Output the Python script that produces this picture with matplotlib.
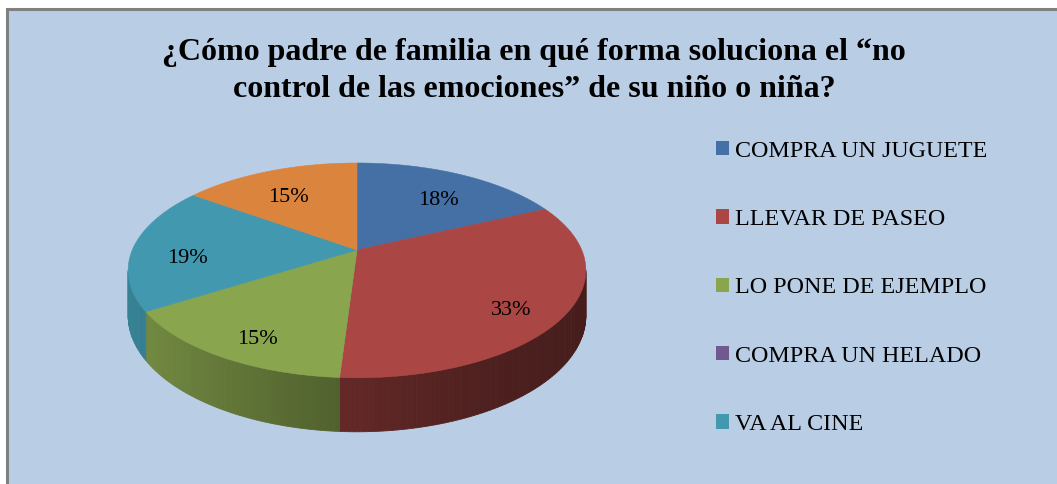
"""
3D-style pie chart: how parents handle a child's "no control de las emociones".
"""

import matplotlib
matplotlib.use("Agg")
import matplotlib.pyplot as plt
from matplotlib.patches import Polygon, Patch, Rectangle
import matplotlib.colors as mcolors
import numpy as np

# --- data ---
legend_labels = ["COMPRA UN JUGUETE", "LLEVAR DE PASEO", "LO PONE DE EJEMPLO",
                 "COMPRA UN HELADO", "VA AL CINE"]
# the sixth (orange) slice has no visible legend entry in the source chart
values = [18, 33, 15, 0, 19, 15]
colors = ["#4470A5", "#AA4643", "#89A54E", "#71588F", "#4198AF", "#DB843D"]

title = "¿Cómo padre de familia en qué forma soluciona el “no\ncontrol de las emociones” de su niño o niña?"

BG = "#B9CDE5"
FONT = "Liberation Serif"

fig = plt.figure(figsize=(10.57, 4.84), dpi=100)
fig.patch.set_facecolor("white")

# chart area with grey frame (only top/left visible in the source)
fig.patches.append(Rectangle((7 / 1057, -0.05), 1.2, 1 - 9 / 484 + 0.05,
                             transform=fig.transFigure, facecolor=BG,
                             edgecolor="#808080", linewidth=2.2, zorder=-5))

ax = fig.add_axes([100 / 1057, 30 / 484, 512 / 1057, 354 / 484])
ax.set_xlim(-1.1438, 1.1349)
ax.set_ylim(-1.971, 1.449)
ax.axis("off")
ax.set_zorder(2)

persp = 0.19   # perspective strength (back of the disc looks smaller)
depth = 0.4226  # thickness of the disc


def proj(theta_deg, r=1.0, drop=0.0):
    t = np.radians(theta_deg)
    w = 1 + persp * r * np.sin(t)
    return r * np.cos(t) / w, (r * np.sin(t) - drop) / w


fracs = np.array(values, dtype=float) / sum(values)
ends = 90 - np.cumsum(fracs) * 360
starts = np.concatenate([[90], ends[:-1]])


def shade(x):
    # darker towards the right side of the wall
    u = min(max((1 - x) / 2, 0.0), 1.0)
    return 0.42 + 0.43 * u ** 1.5


# visible part of the side wall
vis_lo = -180 + np.degrees(np.arcsin(persp))
vis_hi = -np.degrees(np.arcsin(persp))

for s, e, c in zip(starts, ends, colors):
    a0, a1 = min(s, e), max(s, e)
    base = np.array(mcolors.to_rgb(c))
    for k in (-360, 0):
        b0, b1 = max(a0 + k, vis_lo), min(a1 + k, vis_hi)
        if b1 <= b0:
            continue
        n = max(2, int(b1 - b0))
        edges = np.linspace(b0, b1, n + 1)
        for t0, t1 in zip(edges[:-1], edges[1:]):
            x0, y0 = proj(t0)
            x1, y1 = proj(t1)
            x2, y2 = proj(t1, drop=depth)
            x3, y3 = proj(t0, drop=depth)
            col = np.clip(base * shade((x0 + x1) / 2), 0, 1)
            ax.add_patch(Polygon([(x0, y0), (x1, y1), (x2, y2), (x3, y3)], closed=True,
                                 facecolor=col, edgecolor=col, linewidth=0.6, zorder=1))

# top face
for s, e, c in zip(starts, ends, colors):
    if s == e:
        continue
    xs, ys = proj(np.linspace(s, e, 150))
    pts = np.vstack([[(0, 0)], np.column_stack([xs, ys])])
    ax.add_patch(Polygon(pts, closed=True, facecolor=c, edgecolor=c,
                         linewidth=0.4, zorder=2))

# percentage labels
for s, e, v in zip(starts, ends, values):
    if v == 0:
        continue
    lx, ly = proj((s + e) / 2, r=0.76, drop=depth * 0.25)
    ax.text(lx, ly, f"{v}%", ha="center", va="center", fontsize=16,
            family=FONT, color="black", zorder=3)

fig.text(534 / 1057, 1 - 71 / 484, title, ha="center", va="center",
         fontsize=23, fontweight="bold", family=FONT, linespacing=1.33)

handles = [Patch(facecolor=c, edgecolor="none") for c in colors[:len(legend_labels)]]
fig.legend(handles, legend_labels, loc="upper left",
           bbox_to_anchor=(694 / 1057, 1 - 119 / 484), frameon=False,
           prop={"family": FONT, "size": 17.3}, handlelength=0.55, handleheight=0.55,
           handletextpad=0.25, labelspacing=1.97)

fig.savefig("out.png", dpi=100, facecolor=fig.get_facecolor())
